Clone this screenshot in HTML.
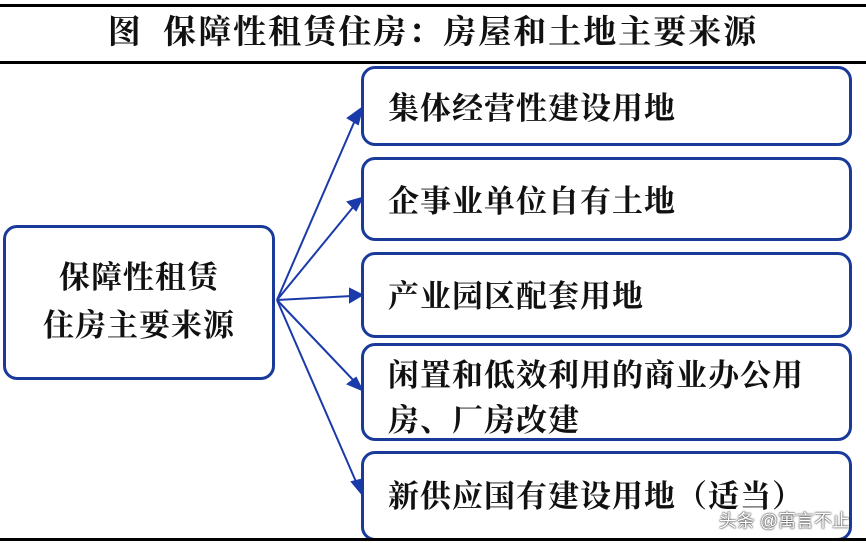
<!DOCTYPE html>
<html><head><meta charset="utf-8"><style>
body{margin:0;width:866px;height:543px;background:#fff;overflow:hidden;position:relative;font-family:"Liberation Serif","Noto Serif CJK SC",serif;}
.l{position:absolute;left:0;width:866px;height:3px;background:#000}
.t{position:absolute;left:0;width:866px;top:11px;text-align:center;font-size:33px;font-weight:bold;letter-spacing:2px;color:#111;line-height:44px}
.b{position:absolute;border:3px solid #1a3a9a;border-radius:14px;box-sizing:border-box;background:#fff}
.x{position:absolute;font-size:31px;letter-spacing:1px;font-weight:bold;color:#111;line-height:45px}
.w{position:absolute;right:16px;bottom:10px;font-family:"Liberation Sans","Noto Sans CJK SC",sans-serif;font-size:18px;color:#fff;text-shadow:0 0 2px #333,0 0 1px #000}
</style></head><body>
<div class="l" style="top:4px"></div>
<div class="t">图&nbsp; 保障性租赁住房：房屋和土地主要来源</div>
<div class="l" style="top:61px"></div>
<svg width="866" height="543" style="position:absolute;left:0;top:0">
<g stroke="#1a3aaa" stroke-width="2" fill="#1a3aaa">
<line x1="277" y1="300" x2="356" y2="118"/><polygon points="362,108 348,118 358,124"/>
<line x1="277" y1="300" x2="354" y2="206"/><polygon points="362,198 348,202 356,210"/>
<line x1="277" y1="300" x2="352" y2="296"/><polygon points="362,295 350,289 350,302"/>
<line x1="277" y1="300" x2="355" y2="382"/><polygon points="362,390 348,384 356,378"/>
<line x1="277" y1="300" x2="357" y2="484"/><polygon points="362,494 352,482 360,480"/>
</g></svg>
<div class="b" style="left:3px;top:225px;width:272px;height:155px"></div>
<div class="x" style="left:3px;top:254px;width:272px;text-align:center;line-height:48px">保障性租赁<br>住房主要来源</div>
<div class="b" style="left:361px;top:66px;width:491px;height:80px"></div>
<div class="x" style="left:388px;top:86px">集体经营性建设用地</div>
<div class="b" style="left:361px;top:157px;width:491px;height:84px"></div>
<div class="x" style="left:388px;top:179px">企事业单位自有土地</div>
<div class="b" style="left:361px;top:252px;width:491px;height:86px"></div>
<div class="x" style="left:388px;top:274px">产业园区配套用地</div>
<div class="b" style="left:361px;top:343px;width:491px;height:98px"></div>
<div class="x" style="left:388px;top:353px">闲置和低效利用的商业办公用<br>房、厂房改建</div>
<div class="b" style="left:361px;top:451px;width:491px;height:90px"></div>
<div class="x" style="left:388px;top:474px">新供应国有建设用地（适当）</div>
<div class="l" style="top:538px"></div>
<div class="w">头条 @寓言不止</div>
</body></html>
